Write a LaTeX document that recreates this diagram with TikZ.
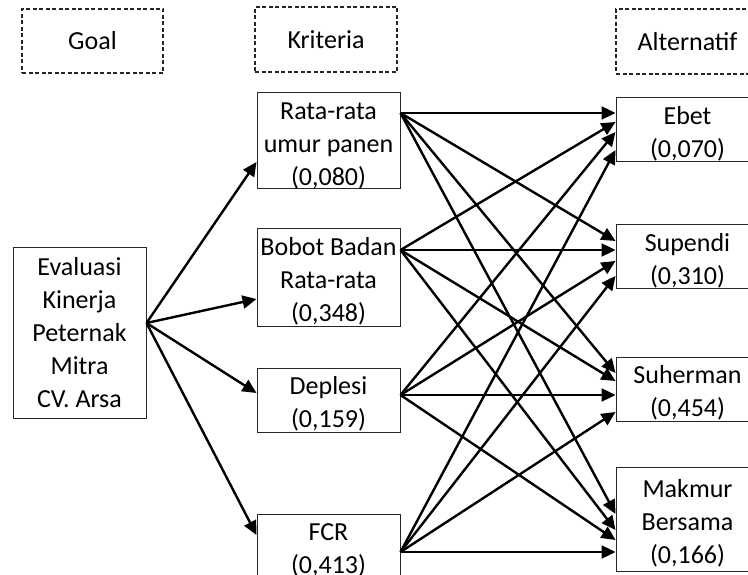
\documentclass[tikz,border=0pt]{standalone}
\usepackage{fontspec}
\setmainfont{Carlito}
\usetikzlibrary{arrows.meta}
\newcommand\mytopstrut{\rule{0pt}{26pt}}
\tikzset{
  box/.style={draw=black!85, line width=1pt, minimum width=143pt, align=center, inner sep=0pt,
    font=\fontsize{26}{33}\selectfont},
  headbox/.style={draw=black!85, line width=1.2pt, dash pattern=on 4pt off 2.5pt, minimum width=142pt,
    minimum height=64pt, inner sep=0pt, font=\fontsize{26}{33}\selectfont},
  arr/.style={line width=2.4pt, -{Triangle[length=14pt,width=13pt]}}
}
\begin{document}
\begin{tikzpicture}[x=1pt,y=1pt]
\useasboundingbox (0,0) rectangle (748,-575);
\clip (0,0) rectangle (748,-575);
% header boxes
\node[headbox, minimum width=141pt] (hgoal) at (92.5,-41) {Goal};
\node[headbox, minimum height=65pt] (hkrit) at (326,-39.5) {Kriteria};
\node[headbox, minimum width=143pt, minimum height=65pt] (halt) at (687.5,-41.5) {Alternatif};
% goal
\node[box, minimum width=133pt, minimum height=170pt] (goal) at (79.5,-333) {Evaluasi\\Kinerja\\Peternak\\Mitra\\CV. Arsa};
% criteria
\node[box, minimum height=96pt] (rata) at (328.5,-141) {\mytopstrut Rata-rata\\umur panen\\(0,080)};
\node[box, minimum height=97pt] (bobot) at (328.5,-277.5) {\mytopstrut Bobot Badan\\Rata-rata\\(0,348)};
\node[box, minimum height=64pt] (deplesi) at (328.5,-400) {\mytopstrut Deplesi\\(0,159)};
\node[box, minimum height=64pt] (fcr) at (328.5,-546) {\mytopstrut FCR\\(0,413)};
% alternatives
\node[box, minimum height=64pt] (ebet) at (687.5,-130) {\mytopstrut Ebet\\(0,070)};
\node[box, minimum height=64pt] (supendi) at (687.5,-257) {\mytopstrut Supendi\\(0,310)};
\node[box, minimum height=64pt] (suherman) at (687.5,-389) {\mytopstrut Suherman\\(0,454)};
\node[box, minimum height=104pt] (makmur) at (687.5,-519) {\mytopstrut Makmur\\Bersama\\(0,166)};
% goal -> criteria
\draw[arr] ([yshift=10pt]goal.east) -- ([yshift=-21pt]rata.west);
\draw[arr] ([yshift=10pt]goal.east) -- ([yshift=-21.5pt]bobot.west);
\draw[arr] ([yshift=10pt]goal.east) -- ([yshift=7pt]deplesi.west);
\draw[arr] ([yshift=10pt]goal.east) -- ([yshift=11pt]fcr.west);
% criteria -> alternatives
\foreach \s/\sy/\t/\ty in {
  rata/28/ebet/17, rata/28/supendi/16, rata/28/suherman/16, rata/28/makmur/5,
  bobot/27.5/ebet/8, bobot/27.5/supendi/7, bobot/27.5/suherman/8, bobot/27.5/makmur/-11,
  deplesi/5/ebet/-2, deplesi/5/supendi/-4, deplesi/5/suherman/-6, deplesi/5/makmur/-21,
  fcr/-6/ebet/-20, fcr/-6/supendi/-19, fcr/-6/suherman/-23, fcr/-6/makmur/-33}
  \draw[arr] ([yshift=\sy pt]\s.east) -- ([yshift=\ty pt]\t.west);
\end{tikzpicture}
\end{document}
